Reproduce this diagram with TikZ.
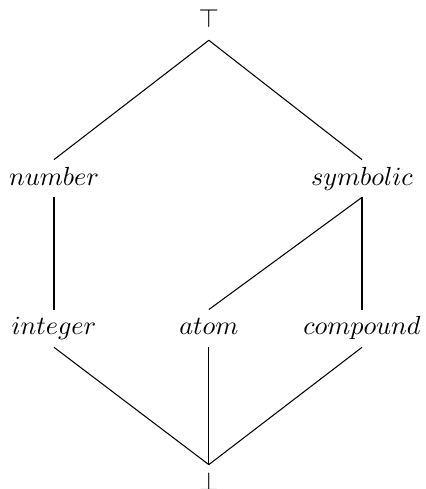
\documentclass[tikz,border=0pt]{standalone}
\begin{document}
\begin{tikzpicture}[
        every node/.style={
            anchor=base,
            inner sep=2.5pt,
            text height=7pt,
            text depth=2pt
        }
    ]
    \useasboundingbox (0,0) rectangle (5.70,6.557);

    % Elementos del retículo
    \node (top)      at (2.80,6.182)  {$\top$};
    \node (number)   at (0.724,4.076) {$number$};
    \node (symbolic) at (4.854,4.076) {$symbolic$};
    \node (integer)  at (0.724,2.065) {$integer$};
    \node (atom)     at (2.80,2.065)  {$atom$};
    \node (compound) at (4.854,2.065) {$compound$};
    \node (bot)      at (2.80,-0.014) {$\bot$};

    % Orden parcial
    \draw (top.south) -- (number.north);
    \draw (top.south) -- (symbolic.north);
    \draw (number.south) -- (integer.north);
    \draw (symbolic.south) -- (atom.north);
    \draw (symbolic.south) -- (compound.north);
    \draw (integer.south) -- (bot.north);
    \draw (atom.south) -- (bot.north);
    \draw (compound.south) -- (bot.north);

\end{tikzpicture}
\end{document}
